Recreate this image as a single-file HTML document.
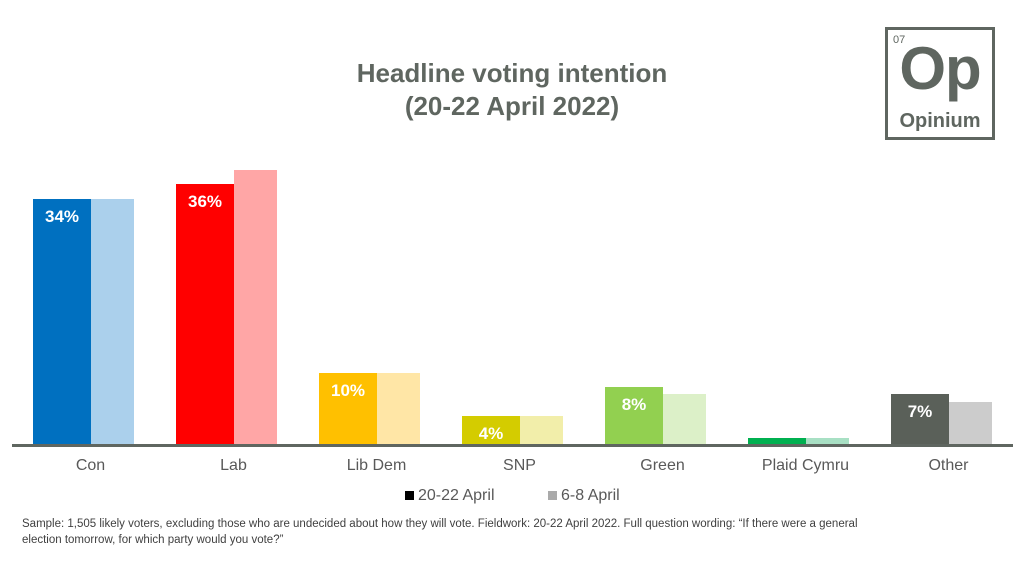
<!DOCTYPE html>
<html><head><style>
body{margin:0;width:1024px;height:576px;background:#fff;position:relative;overflow:hidden;font-family:"Liberation Sans",sans-serif;color:#595959}
.t{position:absolute;left:0;width:1024px;text-align:center;font-weight:bold;font-size:26px;color:#5f6660}
.b{position:absolute}
.v{position:absolute;width:58px;text-align:center;color:#fff;font-weight:bold;font-size:17px}
.l{position:absolute;width:143px;text-align:center;font-size:16px;top:457px}
</style></head><body>
<div class="t" style="top:58px">Headline voting intention</div>
<div class="t" style="top:91px">(20-22 April 2022)</div>
<div style="position:absolute;left:885px;top:27px;width:110px;height:113px;border:3px solid #5f6660;box-sizing:border-box;color:#5f6660">
<div style="position:absolute;left:5px;top:4px;font-size:11px">07</div>
<div style="position:absolute;left:0;width:104px;top:4px;text-align:center;font-size:60px;font-weight:bold;letter-spacing:-1px">Op</div>
<div style="position:absolute;left:0;width:104px;top:80px;text-align:center;font-size:20px;font-weight:bold">Opinium</div>
</div>
<div id="c"></div>
<div style="position:absolute;left:12px;top:444px;width:1001px;height:3px;background:#5f6660"></div>
<div style="position:absolute;top:487px;left:405px;font-size:16px"><span style="display:inline-block;width:9px;height:9px;background:#000;margin-right:4px"></span>20-22 April</div>
<div style="position:absolute;top:487px;left:548px;font-size:16px"><span style="display:inline-block;width:9px;height:9px;background:#aaa;margin-right:4px"></span>6-8 April</div>
<div style="position:absolute;left:22px;top:516px;font-size:11.5px;line-height:16px;color:#404040;width:950px">Sample: 1,505 likely voters, excluding those who are undecided about how they will vote. Fieldwork: 20-22 April 2022. Full question wording: “If there were a general<br>election tomorrow, for which party would you vote?”</div>
<script>
var d=[["Con",34,34,"#0070c0","#abd0ec",1],["Lab",36,38,"#ff0000","#ffa6a6",1],["Lib Dem",10,10,"#ffc000","#ffe6a6",1],["SNP",4,4,"#d4cc00","#f2eeaa",1],["Green",8,7,"#92d050","#dcf0c8",1],["Plaid Cymru",1,1,"#00b050","#a8e0c4",0],["Other",7,6,"#5a6059","#cccccc",1]];
var h="";d.forEach(function(r,i){var x=33+143*i,k=7.24,t1=445-r[1]*k,t2=445-r[2]*k;
h+='<div class="b" style="left:'+x+'px;top:'+t1+'px;width:58px;height:'+(r[1]*k)+'px;background:'+r[3]+'"></div>';
h+='<div class="b" style="left:'+(x+58)+'px;top:'+t2+'px;width:43px;height:'+(r[2]*k)+'px;background:'+r[4]+'"></div>';
if(r[5])h+='<div class="v" style="left:'+x+'px;top:'+(t1+8)+'px">'+r[1]+'%</div>';
h+='<div class="l" style="left:'+(x-14)+'px">'+r[0]+'</div>';});
document.getElementById("c").innerHTML=h;
</script>
</body></html>
